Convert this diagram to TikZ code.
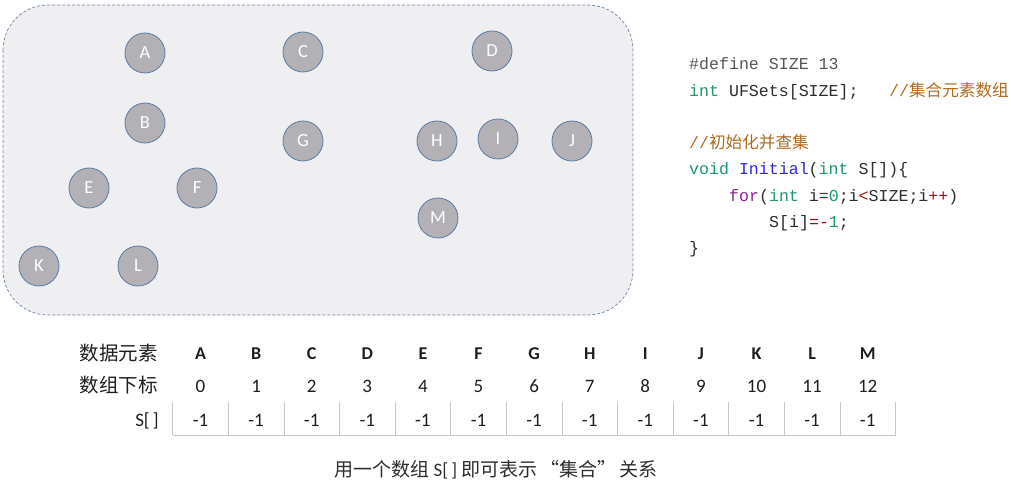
\documentclass[tikz,border=0pt]{standalone}
\usepackage{fontspec}
\setmainfont{Carlito}
\newfontfamily\cjk{Noto Sans CJK SC}
\newfontfamily\codef{Liberation Mono}
\definecolor{boxfill}{RGB}{239,238,241}
\definecolor{boxline}{RGB}{105,135,165}
\definecolor{circfill}{RGB}{179,177,181}
\definecolor{circline}{RGB}{88,124,165}
\definecolor{cgray}{RGB}{85,85,85}
\definecolor{ctext}{RGB}{45,45,45}
\definecolor{ckw}{RGB}{30,150,110}
\definecolor{ccm}{RGB}{176,106,30}
\definecolor{cfn}{RGB}{45,45,205}
\definecolor{cpur}{RGB}{135,35,135}
\definecolor{cop}{RGB}{140,20,20}
\definecolor{gridc}{RGB}{200,200,200}
\definecolor{tabtext}{RGB}{30,30,30}
\newcommand\csp{\hspace*{9.96pt}}
\begin{document}
\begin{tikzpicture}[x=1pt,y=-1pt,
  elem/.style={circle,minimum size=40pt,inner sep=0pt,fill=circfill,draw=circline,line width=0.8pt,
    text=white,font=\fontsize{18.5}{20}\selectfont},
  codeline/.style={anchor=base west,inner sep=0pt,text=ctext,font=\codef\fontsize{16.6}{18}\selectfont},
  rowlabel/.style={anchor=east,inner sep=0pt,text=tabtext,font=\cjk\fontsize{19.5}{21}\selectfont},
  hdr/.style={anchor=base,inner sep=0pt,text=tabtext,font=\bfseries\fontsize{18}{20}\selectfont},
  idx/.style={anchor=base,inner sep=0pt,text=tabtext,font=\fontsize{19}{21}\selectfont},
  val/.style={anchor=base,inner sep=0pt,text=tabtext,font=\fontsize{19}{21}\selectfont},
  grid/.style={draw=gridc,line width=0.8pt}]
\useasboundingbox (0,0) rectangle (1011,481);
% set box
\draw[fill=boxfill,draw=boxline,dash pattern=on 3pt off 2pt,line width=0.7pt,rounded corners=45pt]
  (3,5) rectangle (633,315);
% elements
\node[elem] (A) at (145,53) {A};
\node[elem] (B) at (145,123) {B};
\node[elem] (C) at (303,52) {C};
\node[elem] (D) at (492,51) {D};
\node[elem] (E) at (89,188) {E};
\node[elem] (F) at (197,188) {F};
\node[elem] (G) at (303,141) {G};
\node[elem] (H) at (437,141) {H};
\node[elem] (I) at (498,139) {I};
\node[elem] (J) at (572,141) {J};
\node[elem] (K) at (39,266) {K};
\node[elem] (L) at (138,266) {L};
\node[elem] (M) at (438,218) {M};
% code
\node[codeline] (c1) at (689,70) {\color{cgray}\#define\csp SIZE\csp 13};
\node[codeline] (c2) at (689,96.5) {{\color{ckw}int}\csp UFSets[SIZE];};
\node[codeline,text=ccm] (c2c) at (889,96.5) {//{\cjk\fontsize{16.6}{18}\selectfont 集合元素数组}};
\node[codeline,text=ccm] (c3) at (689,149) {//{\cjk\fontsize{16.6}{18}\selectfont 初始化并查集}};
\node[codeline] (c4) at (689,175) {{\color{ckw}void}\csp{\color{cfn}Initial}({\color{ckw}int}\csp S[])\{};
\node[codeline] (c5) at (729,201) {{\color{cpur}for}({\color{ckw}int}\csp i{\color{cop}=}{\color{ckw}0};i{\color{cop}<}SIZE;i{\color{cop}++})};
\node[codeline] (c6) at (769,227) {S[i]{\color{cop}=-}{\color{ckw}1};};
\node[codeline] (c7) at (689,253) {\}};
% table labels
\node[rowlabel] (r1) at (158,353) {数据元素};
\node[rowlabel] (r2) at (158,385) {数组下标};
\node[anchor=base east,inner sep=0pt,text=tabtext,font=\fontsize{19}{21}\selectfont] (r3) at (159,426) {S[\,]};
\foreach \l [count=\k from 0] in {A,B,C,D,E,F,G,H,I,J,K,L,M}{
  \node[hdr] (h\k) at (200.5+55.6*\k,359) {\l};
  \node[idx] (n\k) at (200.5+55.6*\k,392) {\k};
  \node[val] (v\k) at (200.5+55.6*\k,426) {-1};
}
\foreach \k in {0,...,13}{
  \draw[grid] (172.7+55.6*\k,402) -- (172.7+55.6*\k,435);
}
\draw[grid] (172.7,435) -- (895.5,435);
% caption
\node[inner sep=0pt,text=ctext,font=\cjk\fontsize{19}{21}\selectfont] (cap) at (496,470)
  {用一个数组 {\fontspec{Carlito}S[\,]} 即可表示\,“集合”\,关系};
\end{tikzpicture}
\end{document}
